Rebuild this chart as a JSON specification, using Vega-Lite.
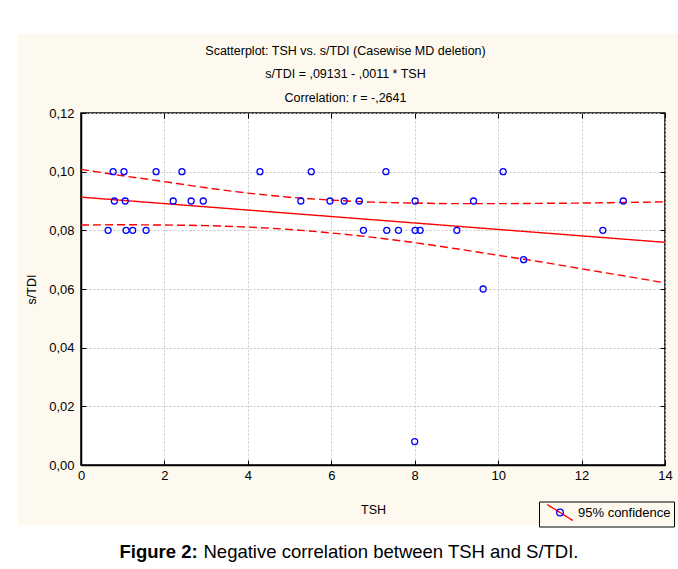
{
  "$schema": "https://vega.github.io/schema/vega-lite/v6.json",
  "padding": 0,
  "background": "#fdf9ee",
  "spacing": 0,
  "config": {
    "font": "Liberation Sans",
    "locale": {"number": {"decimal": ",", "thousands": ".", "grouping": [3], "currency": ["", ""]}},
    "concat": {"spacing": 0}
  },
  "datasets": {
    "points": [
      {"TSH": 0.77, "sTDI": 0.10}, {"TSH": 1.03, "sTDI": 0.10}, {"TSH": 1.8, "sTDI": 0.10}, {"TSH": 2.42, "sTDI": 0.10},
      {"TSH": 4.29, "sTDI": 0.10}, {"TSH": 5.52, "sTDI": 0.10}, {"TSH": 7.31, "sTDI": 0.10}, {"TSH": 10.12, "sTDI": 0.10},
      {"TSH": 0.80, "sTDI": 0.09}, {"TSH": 1.06, "sTDI": 0.09}, {"TSH": 2.21, "sTDI": 0.09}, {"TSH": 2.64, "sTDI": 0.09},
      {"TSH": 2.93, "sTDI": 0.09}, {"TSH": 5.27, "sTDI": 0.09}, {"TSH": 5.97, "sTDI": 0.09}, {"TSH": 6.31, "sTDI": 0.09},
      {"TSH": 6.67, "sTDI": 0.09}, {"TSH": 8.01, "sTDI": 0.09}, {"TSH": 9.41, "sTDI": 0.09}, {"TSH": 13.0, "sTDI": 0.09},
      {"TSH": 0.65, "sTDI": 0.08}, {"TSH": 1.08, "sTDI": 0.08}, {"TSH": 1.24, "sTDI": 0.08}, {"TSH": 1.56, "sTDI": 0.08},
      {"TSH": 6.77, "sTDI": 0.08}, {"TSH": 7.33, "sTDI": 0.08}, {"TSH": 7.61, "sTDI": 0.08}, {"TSH": 8.01, "sTDI": 0.08},
      {"TSH": 8.13, "sTDI": 0.08}, {"TSH": 9.01, "sTDI": 0.08}, {"TSH": 12.51, "sTDI": 0.08},
      {"TSH": 10.61, "sTDI": 0.07}, {"TSH": 9.64, "sTDI": 0.06}, {"TSH": 8.0, "sTDI": 0.008}
    ],
    "lines": [
      {"TSH": 0, "value": 0.09131, "band": "fit"}, {"TSH": 14, "value": 0.07591, "band": "fit"},
      {"TSH": 0, "value": 0.1008, "band": "upper"}, {"TSH": 1, "value": 0.0986, "band": "upper"}, {"TSH": 2, "value": 0.0966, "band": "upper"},
      {"TSH": 3, "value": 0.0945, "band": "upper"}, {"TSH": 4, "value": 0.0927, "band": "upper"}, {"TSH": 5, "value": 0.0913, "band": "upper"},
      {"TSH": 6, "value": 0.0903, "band": "upper"}, {"TSH": 7, "value": 0.0896, "band": "upper"}, {"TSH": 8, "value": 0.0893, "band": "upper"},
      {"TSH": 9, "value": 0.0891, "band": "upper"}, {"TSH": 10, "value": 0.0891, "band": "upper"}, {"TSH": 11, "value": 0.0892, "band": "upper"},
      {"TSH": 12, "value": 0.0893, "band": "upper"}, {"TSH": 13, "value": 0.0895, "band": "upper"}, {"TSH": 14, "value": 0.0897, "band": "upper"},
      {"TSH": 0, "value": 0.0818, "band": "lower"}, {"TSH": 1, "value": 0.0819, "band": "lower"}, {"TSH": 2, "value": 0.0818, "band": "lower"},
      {"TSH": 3, "value": 0.0816, "band": "lower"}, {"TSH": 4, "value": 0.0811, "band": "lower"}, {"TSH": 5, "value": 0.0803, "band": "lower"},
      {"TSH": 6, "value": 0.0791, "band": "lower"}, {"TSH": 7, "value": 0.0776, "band": "lower"}, {"TSH": 8, "value": 0.0758, "band": "lower"},
      {"TSH": 9, "value": 0.0737, "band": "lower"}, {"TSH": 10, "value": 0.0715, "band": "lower"}, {"TSH": 11, "value": 0.0693, "band": "lower"},
      {"TSH": 12, "value": 0.0669, "band": "lower"}, {"TSH": 13, "value": 0.0645, "band": "lower"}, {"TSH": 14, "value": 0.0621, "band": "lower"}
    ],
    "titles": [
      {"order": 1, "line": "Scatterplot: TSH vs. s/TDI (Casewise MD deletion)"},
      {"order": 2, "line": "s/TDI = ,09131 - ,0011  * TSH"},
      {"order": 3, "line": "Correlation: r = -,2641"}
    ],
    "caption": [{"bold": "Figure 2:", "rest": "Negative correlation between TSH and S/TDI."}]
  },
  "vconcat": [
    {
      "width": 678, "height": 34,
      "view": {"fill": "white", "stroke": null},
      "data": {"values": []},
      "mark": "point",
      "encoding": {}
    },
    {
      "spacing": 6,
      "hconcat": [
        {
          "width": 18, "height": 491,
          "view": {"fill": "white", "stroke": null},
          "data": {"values": []},
          "mark": "point",
          "encoding": {}
        },
        {
          "spacing": 0,
          "vconcat": [
            {
              "width": 584, "height": 72,
              "view": {"stroke": null},
              "data": {"name": "titles"},
              "mark": {"type": "text", "font": "Liberation Sans", "fontSize": 12.5, "color": "black", "baseline": "middle", "dx": -27.5},
              "encoding": {
                "y": {"field": "order", "type": "ordinal", "axis": null, "scale": {"type": "point", "padding": 0.532, "align": 0.67}},
                "text": {"field": "line"}
              }
            },
            {
              "width": 584, "height": 352,
              "view": {"fill": "white", "stroke": "black", "strokeWidth": 1.5},
              "resolve": {"axis": {"x": "independent", "y": "independent"}},
              "layer": [
                {
                  "data": {"name": "lines"},
                  "transform": [{"filter": "datum.band != 'fit'"}],
                  "mark": {"type": "line", "color": "#ff0000", "strokeWidth": 1.4, "strokeDash": [8, 4], "interpolate": "monotone"},
                  "encoding": {
                    "x": {
                      "field": "TSH", "type": "quantitative",
                      "scale": {"domain": [0, 14], "nice": false},
                      "axis": {
                        "values": [0, 2, 4, 6, 8, 10, 12, 14], "grid": true, "gridColor": "#c8c8c8", "gridDash": [2, 2],
                        "domainColor": "black", "domainWidth": 1.5, "tickColor": "black", "tickSize": -5,
                        "labelFontSize": 13, "labelColor": "black", "labelPadding": 9, "labelFlush": false, "labelOverlap": false,
                        "title": "TSH", "titleFontSize": 12.5, "titleFontWeight": "normal", "titleColor": "black", "titlePadding": 21
                      }
                    },
                    "y": {
                      "field": "value", "type": "quantitative",
                      "scale": {"domain": [0, 0.12], "nice": false},
                      "axis": {
                        "values": [0, 0.02, 0.04, 0.06, 0.08, 0.1, 0.12], "format": ".2f", "grid": true, "gridColor": "#c8c8c8", "gridDash": [2, 2],
                        "domainColor": "black", "domainWidth": 1.5, "tickColor": "black", "tickSize": -5,
                        "labelFontSize": 13, "labelColor": "black", "labelPadding": 12, "labelFlush": false, "labelOverlap": false,
                        "title": "s/TDI", "titleFontSize": 12.5, "titleFontWeight": "normal", "titleColor": "black", "titlePadding": 10.5
                      }
                    },
                    "detail": {"field": "band"}
                  }
                },
                {
                  "data": {"name": "lines"},
                  "transform": [{"filter": "datum.band == 'fit'"}],
                  "mark": {"type": "line", "color": "#ff0000", "strokeWidth": 1.4},
                  "encoding": {
                    "x": {"field": "TSH", "type": "quantitative", "axis": null},
                    "y": {"field": "value", "type": "quantitative", "axis": null},
                    "strokeDash": {
                      "datum": "fitline",
                      "scale": {"range": [[1, 0]]},
                      "legend": {
                        "title": null, "orient": "none", "legendX": 539, "legendY": 501.5,
                        "symbolType": "M-1.83,-1.14L1.83,1.14", "symbolSize": 196, "symbolStrokeColor": "#ff0000", "symbolStrokeWidth": 1.3,
                        "symbolOffset": 10,
                        "labelExpr": "'95% confidence'",
                        "labelFontSize": 13, "labelColor": "black", "labelFont": "Liberation Sans", "labelOffset": 10,
                        "strokeColor": "black", "padding": 3
                      }
                    }
                  }
                },
                {
                  "data": {"name": "points"},
                  "mark": {"type": "point", "filled": false, "size": 36, "strokeWidth": 1.3, "opacity": 1},
                  "encoding": {
                    "x": {"field": "TSH", "type": "quantitative", "axis": null},
                    "y": {"field": "sTDI", "type": "quantitative", "axis": null},
                    "color": {
                      "datum": "95% confidence",
                      "scale": {"range": ["#0000ff"]},
                      "legend": {
                        "title": null, "orient": "none", "legendX": 539, "legendY": 501.5,
                        "symbolType": "M0.47,0A0.47,0.47 0 1,1 -0.47,0A0.47,0.47 0 1,1 0.47,0Z", "symbolSize": 196, "symbolStrokeWidth": 1.3,
                        "symbolOffset": 10,
                        "labelFontSize": 13, "labelColor": "transparent", "labelFont": "Liberation Sans", "labelOffset": 10,
                        "padding": 3
                      }
                    }
                  }
                },
                {
                  "data": {"name": "lines"},
                  "transform": [{"filter": "datum.band == 'fit'"}],
                  "mark": {"type": "line", "opacity": 0},
                  "encoding": {
                    "x": {"field": "TSH", "type": "quantitative",
                      "axis": {"orient": "top", "values": [0, 2, 4, 6, 8, 10, 12, 14], "labels": false, "grid": false, "domain": false, "tickColor": "black", "tickSize": -5, "title": null}},
                    "y": {"field": "value", "type": "quantitative",
                      "axis": {"orient": "right", "values": [0, 0.02, 0.04, 0.06, 0.08, 0.1, 0.12], "labels": false, "grid": false, "domain": false, "tickColor": "black", "tickSize": -5, "title": null}}
                  }
                }
              ]
            }
          ]
        }
      ]
    },
    {
      "width": 678, "height": 44,
      "view": {"fill": "white", "stroke": null},
      "data": {"name": "caption"},
      "layer": [
        {
          "mark": {"type": "text", "font": "Liberation Sans", "fontSize": 18.5, "fontWeight": "bold", "align": "left", "baseline": "alphabetic", "dx": -219.5, "dy": 11, "color": "black"},
          "encoding": {"text": {"field": "bold"}}
        },
        {
          "mark": {"type": "text", "font": "Liberation Sans", "fontSize": 18.5, "align": "left", "baseline": "alphabetic", "dx": -135.5, "dy": 11, "color": "black"},
          "encoding": {"text": {"field": "rest"}}
        }
      ]
    }
  ]
}
